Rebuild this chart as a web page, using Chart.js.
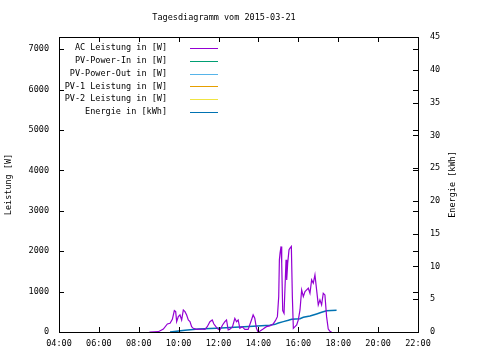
<!DOCTYPE html>
<html>
<head>
<meta charset="utf-8">
<script src="https://cdn.jsdelivr.net/npm/chart.js@4"></script>
<style>
  html, body { margin: 0; padding: 0; background: #fff; }
  #wrap { width: 480px; height: 360px; }
</style>
</head>
<body>
<div id="wrap"><canvas id="dayChart"></canvas></div>
<script>
const chartTitle = 'Tagesdiagramm vom 2015-03-21';
const hourTicks = ['04:00', '06:00', '08:00', '10:00', '12:00', '14:00', '16:00', '18:00', '20:00', '22:00'];
const powerTicks = [0, 1000, 2000, 3000, 4000, 5000, 6000, 7000];
const energyTicks = [0, 5, 10, 15, 20, 25, 30, 35, 40, 45];

// AC Leistung in [W]
const acTimes = ['08:32', '08:59', '09:14', '09:26', '09:34', '09:41', '09:47', '09:51', '09:54', '09:59',
  '10:04', '10:09', '10:14', '10:19', '10:24', '10:29', '10:34', '10:39', '10:44', '10:54',
  '11:04', '11:19', '11:26', '11:34', '11:41', '11:46', '11:52', '11:59', '12:04', '12:12',
  '12:19', '12:24', '12:29', '12:34', '12:42', '12:49', '12:54', '12:59', '13:04', '13:11',
  '13:19', '13:29', '13:39', '13:44', '13:49', '13:54', '13:59', '14:04', '14:14', '14:24',
  '14:34', '14:44', '14:51', '14:57', '15:01', '15:03', '15:05', '15:08', '15:10', '15:13',
  '15:17', '15:20', '15:23', '15:25', '15:28', '15:32', '15:35', '15:39', '15:42', '15:45',
  '15:50', '15:55', '16:00', '16:05', '16:10', '16:15', '16:20', '16:25', '16:30', '16:35',
  '16:40', '16:45', '16:50', '16:55', '17:00', '17:05', '17:10', '17:15', '17:20', '17:25',
  '17:30', '17:35', '17:40'];
const acValues = [0, 8, 74, 198, 215, 314, 529, 504, 256, 380,
  422, 298, 546, 504, 422, 298, 256, 132, 91, 66,
  74, 66, 132, 256, 298, 198, 132, 66, 50, 174,
  256, 298, 50, 66, 132, 339, 256, 298, 91, 132,
  66, 66, 298, 422, 339, 91, 0, 20, 74, 132,
  150, 198, 280, 380, 877, 1786, 1952, 2117, 1704, 529,
  463, 1125, 1786, 1290, 1704, 2034, 2076, 2117, 877, 91,
  132, 174, 298, 546, 1042, 877, 1001, 1042, 1083, 959,
  1290, 1207, 1414, 1042, 670, 794, 670, 959, 918, 380,
  74, 20, 0];

// Energie in [kWh]
const energyTimes = ['09:34', '10:19', '10:59', '11:54', '12:49', '13:44', '14:34', '14:50', '15:00', '15:15',
  '15:30', '15:40', '16:05', '16:15', '16:35', '16:55', '17:10', '17:25', '17:55'];
const energyValues = [0, 0.25, 0.46, 0.56, 0.71, 0.86, 1.02, 1.17, 1.37, 1.58,
  1.78, 1.93, 2.03, 2.24, 2.44, 2.75, 3.0, 3.25, 3.3];

const seriesLabels = ['AC Leistung in [W]', 'PV-Power-In in [W]', 'PV-Power-Out in [W]',
  'PV-1 Leistung in [W]', 'PV-2 Leistung in [W]', 'Energie in [kWh]'];
const seriesColors = ['#9400d3', '#009e73', '#56b4e9', '#e69f00', '#f0e442', '#0072b2'];

function toHours(hhmm) {
  const p = hhmm.split(':');
  return Number(p[0]) + Number(p[1]) / 60;
}
function pairs(times, values) {
  return times.map((t, i) => ({ x: toHours(t), y: values[i] }));
}

const FONT = '8.5px "DejaVu Sans Mono", monospace';
Chart.defaults.font.family = '"DejaVu Sans Mono", monospace';
Chart.defaults.font.size = 8.5;
Chart.defaults.color = '#000';

// gnuplot-like frame, inward ticks, title, legend, right axis title
const gnuFrame = {
  id: 'gnuFrame',
  afterDraw(chart) {
    const c = chart.ctx, a = chart.chartArea;
    const sx = chart.scales.x, sy = chart.scales.y, sy2 = chart.scales.y2;
    c.save();
    c.strokeStyle = '#000';
    c.lineWidth = 1;
    c.beginPath();
    sx.ticks.forEach(t => {
      const px = Math.round(sx.getPixelForValue(t.value)) + 0.5;
      c.moveTo(px, a.bottom); c.lineTo(px, a.bottom - 5);
      c.moveTo(px, a.top); c.lineTo(px, a.top + 5);
    });
    sy.ticks.forEach(t => {
      const py = Math.round(sy.getPixelForValue(t.value)) + 0.5;
      c.moveTo(a.left, py); c.lineTo(a.left + 5, py);
      c.moveTo(a.right, py); c.lineTo(a.right - 5, py);
    });
    sy2.ticks.forEach(t => {
      const py = Math.round(sy2.getPixelForValue(t.value)) + 0.5;
      c.moveTo(a.right, py); c.lineTo(a.right - 5, py);
    });
    c.stroke();
    c.strokeRect(Math.round(a.left) + 0.5, Math.round(a.top) + 0.5,
      Math.round(a.right - a.left), Math.round(a.bottom - a.top));

    c.fillStyle = '#000';
    c.font = FONT;
    c.textBaseline = 'middle';
    c.textAlign = 'center';
    c.fillText(chartTitle, 224, 18);

    // legend inside the plot
    chart.data.datasets.forEach((ds, i) => {
      const y = 48 + i * 12.8;
      c.textAlign = 'right';
      c.fillStyle = '#000';
      c.fillText(ds.label, 167, y);
      c.strokeStyle = ds.borderColor;
      c.beginPath();
      c.moveTo(190, Math.round(y) + 0.5);
      c.lineTo(218, Math.round(y) + 0.5);
      c.stroke();
    });

    c.translate(453, (a.top + a.bottom) / 2);
    c.rotate(-Math.PI / 2);
    c.textAlign = 'center';
    c.fillStyle = '#000';
    c.fillText('Energie [kWh]', 0, 0);
    c.restore();
  }
};

const ctx = document.getElementById('dayChart').getContext('2d');
const dayChart = new Chart(ctx, {
  type: 'line',
  data: {
    datasets: [
      { label: seriesLabels[0], data: pairs(acTimes, acValues), borderColor: seriesColors[0], borderWidth: 1.2, yAxisID: 'y' },
      { label: seriesLabels[1], data: [], borderColor: seriesColors[1], borderWidth: 1, yAxisID: 'y' },
      { label: seriesLabels[2], data: [], borderColor: seriesColors[2], borderWidth: 1, yAxisID: 'y' },
      { label: seriesLabels[3], data: [], borderColor: seriesColors[3], borderWidth: 1, yAxisID: 'y' },
      { label: seriesLabels[4], data: [], borderColor: seriesColors[4], borderWidth: 1, yAxisID: 'y' },
      { label: seriesLabels[5], data: pairs(energyTimes, energyValues), borderColor: seriesColors[5], borderWidth: 1.5, yAxisID: 'y2' }
    ]
  },
  options: {
    responsive: true,
    maintainAspectRatio: false,
    animation: false,
    layout: { padding: { top: 37 } },
    elements: { point: { radius: 0 }, line: { tension: 0 } },
    plugins: { legend: { display: false }, title: { display: false }, tooltip: { enabled: false } },
    scales: {
      x: {
        type: 'linear', min: 4, max: 22,
        grid: { display: false, drawTicks: false },
        border: { display: false },
        ticks: { padding: 7, maxRotation: 0, autoSkip: false,
          callback: v => hourTicks[(v - 4) / 2] },
        afterBuildTicks: s => { s.ticks = hourTicks.map(h => ({ value: toHours(h) })); },
        afterFit: s => { s.height = 28; }
      },
      y: {
        position: 'left', min: 0, max: 7300,
        grid: { display: false, drawTicks: false },
        border: { display: false },
        ticks: { padding: 10, autoSkip: false, callback: v => String(v) },
        afterBuildTicks: s => { s.ticks = powerTicks.map(v => ({ value: v })); },
        title: { display: true, text: 'Leistung [W]', padding: { top: 4, bottom: 0 } },
        afterFit: s => { s.width = 59; }
      },
      y2: {
        position: 'right', min: 0, max: 45,
        grid: { display: false, drawTicks: false },
        border: { display: false },
        ticks: { padding: 12, autoSkip: false, callback: v => String(v) },
        afterBuildTicks: s => { s.ticks = energyTicks.map(v => ({ value: v })); },
        afterFit: s => { s.width = 62; }
      }
    }
  },
  plugins: [gnuFrame]
});
</script>
</body>
</html>
